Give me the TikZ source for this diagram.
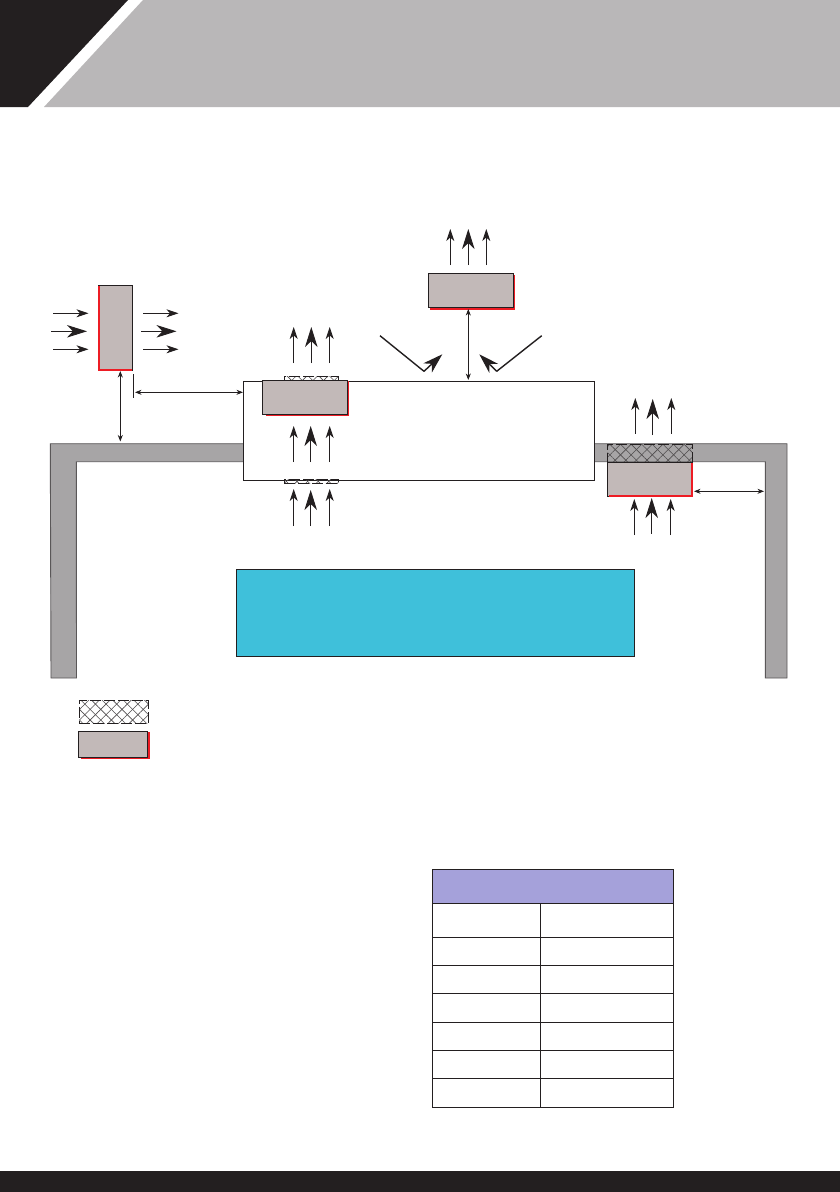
\documentclass[tikz,border=0pt]{standalone}
\usetikzlibrary{arrows.meta,patterns.meta,calc}
\definecolor{ink}{HTML}{231F20}
\definecolor{boxgrey}{HTML}{C2B9B8}
\definecolor{wallgrey}{HTML}{A7A5A6}
\definecolor{headgrey}{HTML}{B9B7B8}
\definecolor{accent}{HTML}{ED1C24}
\definecolor{cyanpanel}{HTML}{3FC0DA}
\definecolor{headviolet}{HTML}{A5A1DA}
\tikzset{
  ln/.style={draw=ink,line width=0.9pt},
  solidbox/.style={ln,fill=boxgrey,inner sep=0pt,outer sep=0pt},
  plainbox/.style={ln,fill=white,inner sep=0pt,outer sep=0pt},
  redline/.style={draw=accent,line width=2pt},
  thin arrow/.style={ln,-{Stealth[length=12pt,width=8pt,inset=3.5pt]}},
  big arrow/.style={ln,-{Stealth[length=20pt,width=12.5pt,inset=6pt]}},
  both arrow/.style={ln,{Stealth[length=6.5pt,width=5pt,inset=2pt]}-{Stealth[length=6.5pt,width=5pt,inset=2pt]}},
  hatchA/.style={pattern={Lines[angle=45,distance=7.5pt,line width=0.6pt]},pattern color=ink!80},
  hatchB/.style={pattern={Lines[angle=-45,distance=7.5pt,line width=0.6pt]},pattern color=ink!80},
}
% #1 name, #2 x0, #3 y0, #4 x1, #5 y1, #6 style
\newcommand{\rectnode}[6]{%
  \node[#6,minimum width={(#4-#2)*1pt},minimum height={(#5-#3)*1pt}] (#1) at ({(#2+#4)/2},{(#3+#5)/2}) {};}
% hatch strip
\newcommand{\hatchstrip}[5]{%
  \node[inner sep=0pt,outer sep=0pt,hatchA,minimum width={(#4-#2)*1pt},minimum height={(#5-#3)*1pt}] (#1) at ({(#2+#4)/2},{(#3+#5)/2}) {};
  \node[inner sep=0pt,outer sep=0pt,hatchB,draw=ink,dash pattern=on 11pt off 3pt,line width=0.8pt,minimum width={(#4-#2)*1pt},minimum height={(#5-#3)*1pt}] at (#1) {};}
% arrow with named free ends: #1 name, #2 style, #3 x0,y0, #4 x1,y1
\newcommand{\arr}[4]{%
  \coordinate (#1s) at (#3); \coordinate (#1e) at (#4);
  \draw[#2] (#1s) -- (#1e);}
\begin{document}
\begin{tikzpicture}[x=1pt,y=-1pt]
\useasboundingbox (0,0) rectangle (840,1192);
\fill[white] (0,0) rectangle (840,1192);
% header
\fill[ink] (0,0) -- (128,0) -- (28,107) -- (0,107) -- cycle;
\fill[headgrey] (143,0) -- (840,0) -- (840,107) -- (44,107) -- cycle;
% footer
\fill[ink] (0,1171) rectangle (840,1192);
% wall
\path[fill=wallgrey,draw=ink!75,line width=0.9pt]
  (51,678) -- (50.3,443.7) -- (787,443.7) -- (787,678) -- (765.3,678) -- (765.3,461.7) -- (76.3,461.7) -- (76.5,678) -- cycle;
% main room
\rectnode{room}{243.3}{381.3}{594.8}{480.3}{plainbox}
% left unit
\rectnode{unitA}{98.7}{285.3}{132.7}{370}{solidbox}
\draw[redline] (99,285.8) -- (99,370) -- (132.3,370);
\arr{a1}{thin arrow}{53,313.3}{88.5,313.3}
\arr{a2}{big arrow}{51,331.3}{87,331.3}
\arr{a3}{thin arrow}{53,349.3}{88.5,349.3}
\arr{a4}{thin arrow}{143,313.3}{178.5,313.3}
\arr{a5}{big arrow}{141,331.3}{176.5,331.3}
\arr{a6}{thin arrow}{143,349.3}{178.5,349.3}
\arr{a7}{both arrow}{120.3,371}{120.3,441.5}
\coordinate (tick1) at (133.3,374); \coordinate (tick2) at (133.3,397.7);
\draw[ln] (tick1) -- (tick2);
\arr{a8}{both arrow}{135,392.3}{243,392.3}
% upper centre unit
\hatchstrip{hatchTop}{284.3}{376}{338.7}{381.3}
\draw[redline] (266,414.9) -- (348.2,414.9) -- (348.2,381);
\rectnode{unitB}{262.3}{380.3}{347.3}{414}{solidbox}
\arr{b1}{thin arrow}{293.7,363}{293.7,327}
\arr{b2}{big arrow}{311.3,363}{311.3,327}
\arr{b3}{thin arrow}{329.7,363}{329.7,327}
\arr{b4}{thin arrow}{293.7,462}{293.7,426}
\arr{b5}{big arrow}{310.7,462}{310.7,426}
\arr{b6}{thin arrow}{329.7,462}{329.7,426}
\hatchstrip{hatchBot}{284.3}{479}{338.7}{483.5}
\arr{b7}{thin arrow}{293.7,526}{293.7,489}
\arr{b8}{big arrow}{310.7,526}{310.7,490}
\arr{b9}{thin arrow}{329.7,526}{329.7,489}
% top unit
\draw[redline] (430,308.5) -- (514.2,308.5) -- (514.2,275);
\rectnode{unitC}{428.3}{273.3}{513.2}{307.5}{solidbox}
\arr{c1}{thin arrow}{450.3,265}{450.3,229}
\arr{c2}{big arrow}{468.3,265}{468.3,229}
\arr{c3}{thin arrow}{486.3,265}{486.3,229}
\arr{c4}{both arrow}{468.3,309}{468.3,380}
\coordinate (v1a) at (380,335.7); \coordinate (v1b) at (424,371.3); \coordinate (v1c) at (442.3,354.3);
\draw[ln,line width=1.4pt] (v1a) -- (v1b);
\draw[big arrow,line width=1.4pt] (v1b) -- (v1c);
\coordinate (v2a) at (541.7,335.7); \coordinate (v2b) at (496.7,371.3); \coordinate (v2c) at (479.3,354.3);
\draw[ln,line width=1.4pt] (v2a) -- (v2b);
\draw[big arrow,line width=1.4pt] (v2b) -- (v2c);
% right unit
\hatchstrip{hatchRight}{607.6}{444}{692.3}{462}
\rectnode{unitD}{607.3}{462.3}{692.3}{496.3}{solidbox}
\draw[redline] (609,496) -- (691.8,496) -- (691.8,462.5);
\arr{d1}{thin arrow}{635.3,433.7}{635.3,398}
\arr{d2}{big arrow}{652.7,435}{652.7,399}
\arr{d3}{thin arrow}{671.3,433.7}{671.3,398}
\arr{d4}{thin arrow}{634.3,535}{634.3,499}
\arr{d5}{big arrow}{651.7,533.5}{651.7,498}
\arr{d6}{thin arrow}{670.7,535}{670.7,499}
\arr{d7}{both arrow}{694,491.3}{764,491.3}
% cyan panel
\rectnode{panel}{236.3}{569.3}{634}{656.3}{ln,fill=cyanpanel,inner sep=0pt,outer sep=0pt}
% legend
\hatchstrip{legHatch}{79.3}{700.3}{148.7}{723.3}
\draw[redline] (81,758.3) -- (148.7,758.3) -- (148.7,732);
\rectnode{legBox}{78.3}{731.3}{147.7}{757.8}{solidbox}
% table
\rectnode{tabHead}{432.3}{869.3}{673.3}{903.3}{ln,fill=headviolet,inner sep=0pt,outer sep=0pt}
\rectnode{tabBody}{432.3}{903.3}{673.3}{1107.3}{plainbox}
\foreach \y in {937.3,965.3,993.3,1022.3,1050.3,1078.3}
  \draw[ln] (432.3,\y) -- (673.3,\y);
\draw[ln] (540.3,903.3) -- (540.3,1107.3);
\end{tikzpicture}
\end{document}
